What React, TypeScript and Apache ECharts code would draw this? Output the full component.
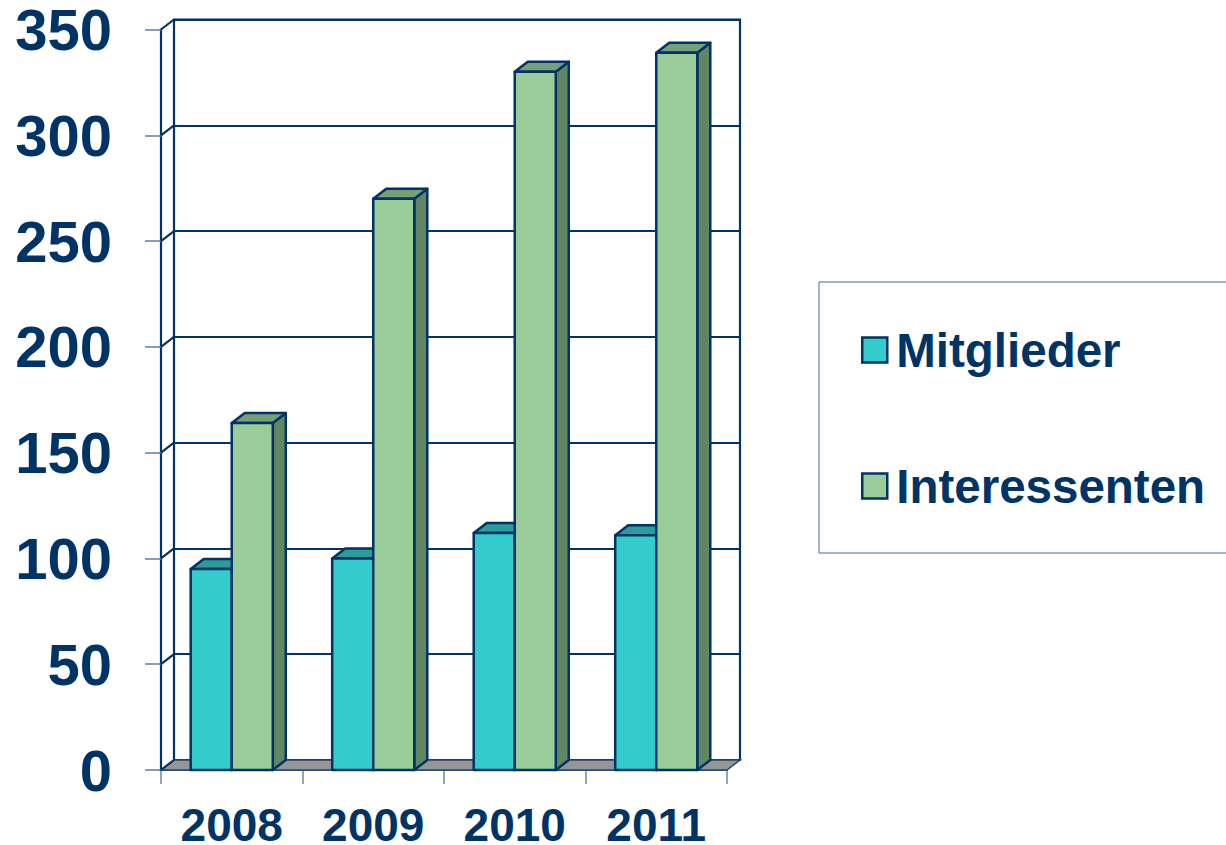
import React, { useEffect, useRef } from "react";
import * as echarts from "echarts";

const years = ["2008", "2009", "2010", "2011"];
const mitglieder = [95, 100, 112, 111];
const interessenten = [164, 270, 330, 339];
const yTicks = [0, 50, 100, 150, 200, 250, 300, 350];

const NAVY = "#003366";
const FONT = "'Liberation Sans', Arial, sans-serif";
const DX = 13;
const DY = 10;
const BAR_FRAC = 0.29;

function barRenderer(seriesIdx: number, front: string, top: string, side: string) {
  return (params: any, api: any) => {
    const i = api.value(0);
    const v = api.value(1);
    const pTop = api.coord([i, v]);
    const pBase = api.coord([i, 0]);
    const bw = api.size([1, 0])[0];
    const w = bw * BAR_FRAC;
    const xl = pTop[0] - w + seriesIdx * w;
    const xr = xl + w;
    const yt = pTop[1];
    const yb = pBase[1];
    const st = { stroke: NAVY, lineWidth: 2.5, lineJoin: "round" };
    return {
      type: "group",
      children: [
        {
          type: "polygon",
          shape: { points: [[xr, yt], [xr + DX, yt - DY], [xr + DX, yb - DY], [xr, yb]] },
          style: { fill: side, ...st },
        },
        {
          type: "polygon",
          shape: { points: [[xl, yt], [xl + DX, yt - DY], [xr + DX, yt - DY], [xr, yt]] },
          style: { fill: top, ...st },
        },
        {
          type: "rect",
          shape: { x: xl, y: yt, width: w, height: yb - yt },
          style: { fill: front, ...st },
        },
      ],
    };
  };
}

export default function App() {
  const ref = useRef<HTMLDivElement>(null);
  useEffect(() => {
    if (!ref.current) return;
    const chart = echarts.init(ref.current, undefined, { renderer: "svg" });
    const option: any = {
      animation: false,
      backgroundColor: "#ffffff",
      grid: [
        { left: 161, right: 499, top: 29.5, bottom: 75, outerBoundsMode: "none", containLabel: false },
        {
          left: 161 + DX,
          right: 499 - DX,
          top: 29.5 - DY,
          bottom: 75 + DY,
          outerBoundsMode: "none",
          containLabel: false,
          show: true,
          borderColor: NAVY,
          borderWidth: 2.2,
          backgroundColor: "transparent",
        },
      ],
      xAxis: [
        {
          type: "category",
          gridIndex: 0,
          data: years,
          boundaryGap: true,
          axisLine: { show: true, lineStyle: { color: NAVY, width: 1.5 } },
          axisTick: { show: true, length: 14, lineStyle: { color: "#6a88ad", width: 1.5 } },
          axisLabel: {
            margin: 37,
            fontSize: 46,
            fontWeight: "bold",
            color: NAVY,
            fontFamily: FONT,
            lineHeight: 36,
          },
          splitLine: { show: false },
        },
        {
          type: "category",
          gridIndex: 1,
          data: years,
          show: false,
        },
      ],
      yAxis: [
        {
          type: "value",
          gridIndex: 0,
          min: 0,
          max: 350,
          interval: 50,
          axisLine: { show: true, lineStyle: { color: NAVY, width: 2.2 } },
          axisTick: { show: true, length: 16, lineStyle: { color: "#5a7fa8", width: 1.5 } },
          axisLabel: {
            margin: 49,
            fontSize: 58,
            fontWeight: "bold",
            color: NAVY,
            fontFamily: FONT,
            lineHeight: 48,
          },
          splitLine: { show: false },
        },
        {
          type: "value",
          gridIndex: 1,
          min: 0,
          max: 350,
          interval: 50,
          axisLine: { show: false },
          axisTick: { show: false },
          axisLabel: { show: false },
          splitLine: { show: true, lineStyle: { color: NAVY, width: 2.2 } },
        },
      ],
      legend: {
        data: ["Mitglieder", "Interessenten"],
        orient: "vertical",
        left: 819,
        top: 282,
        padding: [40, 90, 39, 42],
        itemGap: 80,
        itemWidth: 25,
        itemHeight: 25,
        icon: "rect",
        itemStyle: { borderColor: NAVY, borderWidth: 2.5 },
        backgroundColor: "#ffffff",
        borderColor: "#4b6a93",
        borderWidth: 1,
        textStyle: {
          fontSize: 47.5,
          fontWeight: "bold",
          color: NAVY,
          fontFamily: FONT,
          lineHeight: 56,
          padding: [0, 0, 0, 4],
        },
        selectedMode: false,
      },
      series: [
        {
          type: "custom",
          name: "floor",
          xAxisIndex: 0,
          yAxisIndex: 0,
          z: 1,
          silent: true,
          data: [[0, 0]],
          encode: { x: 0, y: 1 },
          renderItem: (params: any, api: any) => {
            const bw = api.size([1, 0])[0];
            const p0 = api.coord([0, 0]);
            const p1 = api.coord([years.length - 1, 0]);
            const l = p0[0] - bw / 2;
            const r = p1[0] + bw / 2;
            const y = p0[1];
            return {
              type: "polygon",
              shape: { points: [[l, y], [r, y], [r + DX, y - DY], [l + DX, y - DY]] },
              style: { fill: "#969696", stroke: "#1f4a78", lineWidth: 1.5 },
            };
          },
        },
        {
          type: "custom",
          name: "connectors",
          xAxisIndex: 0,
          yAxisIndex: 0,
          z: 1,
          silent: true,
          data: yTicks.map((v) => [0, v]),
          encode: { x: 0, y: 1 },
          renderItem: (params: any, api: any) => {
            const bw = api.size([1, 0])[0];
            const p = api.coord([0, api.value(1)]);
            const x = p[0] - bw / 2;
            return {
              type: "line",
              shape: { x1: x, y1: p[1], x2: x + DX, y2: p[1] - DY },
              style: { stroke: NAVY, lineWidth: 2.2 },
            };
          },
        },
        {
          type: "custom",
          name: "Mitglieder",
          xAxisIndex: 0,
          yAxisIndex: 0,
          z: 2,
          itemStyle: { color: "#33CCCC" },
          data: years.map((_, i) => [i, mitglieder[i]]),
          encode: { x: 0, y: 1 },
          renderItem: barRenderer(0, "#33CCCC", "#2A9C9C", "#247F7F"),
        },
        {
          type: "custom",
          name: "Interessenten",
          xAxisIndex: 0,
          yAxisIndex: 0,
          z: 2,
          itemStyle: { color: "#99CC99" },
          data: years.map((_, i) => [i, interessenten[i]]),
          encode: { x: 0, y: 1 },
          renderItem: barRenderer(1, "#99CC99", "#78A078", "#628562"),
        },
      ],
    };
    chart.setOption(option);
    return () => chart.dispose();
  }, []);
  return (
    <div
      ref={ref}
      style={{ position: "fixed", left: 0, top: 0, width: 1226, height: 845, background: "#fff" }}
    />
  );
}
